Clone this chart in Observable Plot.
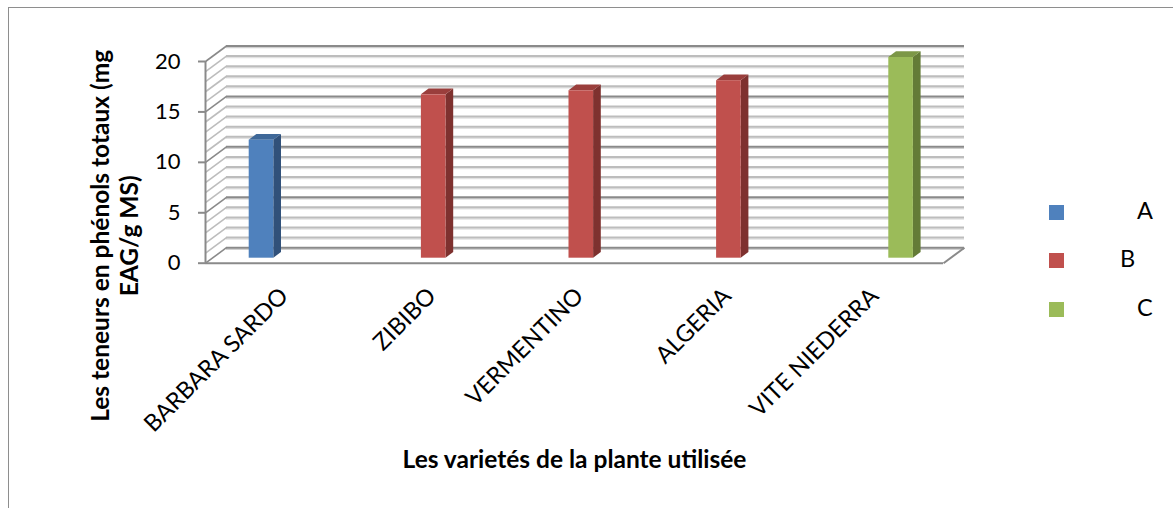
<!DOCTYPE html>
<html>
<head>
<meta charset="utf-8">
<script src="https://cdn.jsdelivr.net/npm/d3@7"></script>
<script src="https://cdn.jsdelivr.net/npm/@observablehq/plot@0.6"></script>
<style>
  html, body { margin: 0; padding: 0; background: #fff; }
  #chart { position: relative; width: 1173px; height: 508px; overflow: hidden; font-family: Lato, "Open Sans", sans-serif; }
  #frame { position: absolute; left: 8px; top: 7px; width: 1200px; height: 540px; border: 1.5px solid #8e8e8e; box-sizing: border-box; }
  #chart svg { position: absolute; left: 0; top: 0; }
  .key { position: absolute; font-size: 23.5px; color: #000; line-height: 1; }
  .swatch { position: absolute; width: 15px; height: 15px; }
</style>
</head>
<body>
<div id="chart"><div id="frame"></div></div>
<script>
// Total phenol content per grape variety, with its significance group
const varieties = ["BARBARA SARDO", "ZIBIBO", "VERMENTINO", "ALGERIA", "VITE NIEDERRA"];
const groups = ["A", "B", "B", "B", "C"];
const phenols = [11.7, 16.2, 16.6, 17.6, 19.9];

const groupNames = ["A", "B", "C"];
const frontColors = ["#4f81bd", "#c0504d", "#9bbb59"];
const topColors = ["#3f6898", "#9a3e3c", "#7c9747"];
const sideColors = ["#31517a", "#7e312f", "#647b37"];

const yTicks = [0, 5, 10, 15, 20];
const gridValues = d3.range(0, 21); // one gridline per unit

const yTitle = "Les teneurs en phénols totaux (mg\nEAG/g MS)";
const xTitle = "Les varietés de la plante utilisée";

// Layout of the front plane of the 3-D box
const W = 1173, H = 508;
const mL = 205, mR = 230, mT = 61, mB = 245.3;
const pxX = (W - mL - mR) / varieties.length;   // pixels per category
const pxY = (H - mT - mB) / 20;                  // pixels per unit
// depth of the walls and of the bars, in pixels then in data units
const wallDX = 21, wallDY = 15.5;
const wdx = wallDX / pxX, wdy = wallDY / pxY;
const barDX = 6.8, barDY = 5;          // offset of the bar front from the floor front
const bdx = 7.7 / pxX, bdy = 5.7 / pxY; // bar depth
const bw = 0.5 / groupNames.length;     // clustered bar width (gap width 100%)

const bars = varieties.map((name, i) => {
  const s = groupNames.indexOf(groups[i]);
  const cx = i + 0.5 + (s - 1) * bw;
  return {name, s, v: phenols[i], x1: cx - bw / 2, x2: cx + bw / 2};
});
const sidePts = bars.flatMap((b, i) => [
  {id: i, x: b.x2, y1: 0, y2: b.v, c: sideColors[b.s]},
  {id: i, x: b.x2 + bdx, y1: bdy, y2: b.v + bdy, c: sideColors[b.s]}
]);
const topPts = bars.flatMap((b, i) => [
  {id: i, x: b.x1, y1: b.v, y2: b.v, c: topColors[b.s]},
  {id: i, x: b.x1 + bdx, y1: b.v, y2: b.v + bdy, c: topColors[b.s]},
  {id: i, x: b.x2, y1: b.v, y2: b.v + bdy, c: topColors[b.s]},
  {id: i, x: b.x2 + bdx, y1: b.v + bdy, y2: b.v + bdy, c: topColors[b.s]}
]);

const minor = gridValues.filter(v => v % 5 !== 0);
const major = gridValues.filter(v => v % 5 === 0);
const minorStroke = "#bdbdbd", majorStroke = "#8a8a8a";

const plot = Plot.plot({
  width: W, height: H,
  marginLeft: mL, marginRight: mR, marginTop: mT, marginBottom: mB,
  x: {domain: [0, varieties.length], axis: null},
  y: {domain: [0, 20], axis: null},
  color: {type: "identity"},
  style: {fontFamily: "Lato, 'Open Sans', sans-serif", fontSize: "23px", background: "transparent", overflow: "visible"},
  marks: [
    // back wall gridlines
    Plot.ruleY(minor, {x1: () => 0, x2: () => varieties.length, dx: wallDX, dy: -wallDY + 1.5, stroke: "#e2e2e2", strokeWidth: 1.5}),
    Plot.ruleY(minor, {x1: () => 0, x2: () => varieties.length, dx: wallDX, dy: -wallDY, stroke: minorStroke, strokeWidth: 2}),
    Plot.ruleY(major, {x1: () => 0, x2: () => varieties.length, dx: wallDX, dy: -wallDY + 1.5, stroke: "#d0d0d0", strokeWidth: 1.5}),
    Plot.ruleY(major, {x1: () => 0, x2: () => varieties.length, dx: wallDX, dy: -wallDY, stroke: majorStroke, strokeWidth: 2}),
    // left wall gridlines
    Plot.link(minor, {x1: () => 0, y1: d => d, x2: () => wdx, y2: d => d + wdy, stroke: minorStroke, strokeWidth: 1.6}),
    Plot.link(major, {x1: () => 0, y1: d => d, x2: () => wdx, y2: d => d + wdy, stroke: majorStroke, strokeWidth: 1.6}),
    // floor edges
    Plot.ruleY([0], {x1: () => 0, x2: () => varieties.length, stroke: majorStroke, strokeWidth: 2}),
    Plot.link([0], {x1: () => varieties.length, y1: () => 0, x2: () => varieties.length + wdx, y2: () => wdy, stroke: majorStroke, strokeWidth: 2}),
    // value axis
    Plot.ruleX([0], {y1: () => 0, y2: () => 20, stroke: majorStroke, strokeWidth: 2}),
    Plot.axisY(yTicks, {anchor: "left", tickSize: 7, tickPadding: 18, stroke: majorStroke, strokeWidth: 2, fill: "#000", fontSize: 22, label: null}),
    // bars: side, top and front faces
    Plot.area(sidePts, {x1: "x", y1: "y1", y2: "y2", z: "id", fill: "c", dx: barDX, dy: -barDY}),
    Plot.area(topPts, {x1: "x", y1: "y1", y2: "y2", z: "id", fill: "c", dx: barDX, dy: -barDY}),
    Plot.rect(bars, {x1: "x1", x2: "x2", y1: () => 0, y2: "v", fill: b => frontColors[b.s], dx: barDX, dy: -barDY}),
    // category labels
    Plot.text(varieties, {x: (d, i) => i + 0.5, y: () => 0, text: d => d, rotate: -45, textAnchor: "end", lineAnchor: "middle", dx: 5, dy: 29, fontSize: 23.5, fill: "#000"}),
    // axis titles
    Plot.text([xTitle], {frameAnchor: "bottom", lineAnchor: "middle", dy: 196.5, fontSize: 24.5, fontWeight: "bold", fill: "#000"}),
    Plot.text([yTitle], {frameAnchor: "left", rotate: -90, textAnchor: "middle", lineAnchor: "middle", lineHeight: 1.184, dx: -91.6, dy: 73.5, fontSize: 24.5, fontWeight: "bold", fill: "#000"})
  ]
});

const chart = document.getElementById("chart");
chart.appendChild(plot);

// legend
const swatchTops = [205, 253, 302];
const labelLefts = [1137, 1120, 1137];
groupNames.forEach((g, k) => {
  const sw = document.createElement("div");
  sw.className = "swatch";
  sw.style.left = "1049px";
  sw.style.top = swatchTops[k] + "px";
  sw.style.background = frontColors[k];
  chart.appendChild(sw);
  const lab = document.createElement("div");
  lab.className = "key";
  lab.style.left = labelLefts[k] + "px";
  lab.style.top = (swatchTops[k] - 6) + "px";
  lab.textContent = g;
  chart.appendChild(lab);
});
</script>
</body>
</html>
